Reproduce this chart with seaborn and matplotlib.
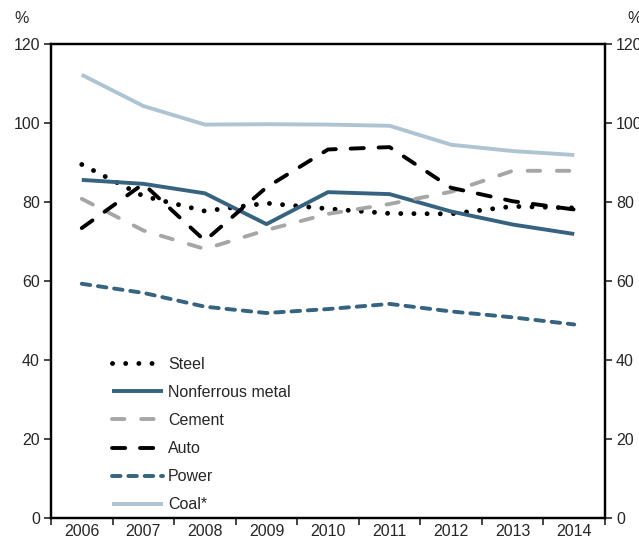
import matplotlib
matplotlib.use('Agg')
import matplotlib.pyplot as plt
import seaborn as sns
import pandas as pd

# capacity utilisation by sector, %
years = ['2006', '2007', '2008', '2009', '2010', '2011', '2012', '2013', '2014']
steel = [89.5, 81.5, 77.7, 79.7, 78.3, 77.1, 77.0, 78.9, 78.5]
nonferrous = [85.6, 84.6, 82.2, 74.4, 82.5, 82.0, 77.6, 74.3, 71.9]
cement = [80.8, 72.8, 68.1, 72.9, 77.0, 79.5, 82.6, 87.9, 87.9]
auto = [73.4, 84.6, 70.2, 83.7, 93.3, 93.9, 83.6, 80.2, 78.1]
power = [59.3, 57.0, 53.5, 51.9, 52.9, 54.2, 52.3, 50.8, 49.0]
coal = [112.2, 104.3, 99.6, 99.7, 99.6, 99.3, 94.5, 92.9, 91.9]

series_names = ['Steel', 'Nonferrous metal', 'Cement', 'Auto', 'Power', 'Coal*']
series_vals = [steel, nonferrous, cement, auto, power, coal]
colors = ['#000000', '#36637f', '#a6a6a6', '#000000', '#36637f', '#afc4d2']
dash_styles = [(0.01, 2.7), None, (3.2, 4.3), (3.4, 3.8), (2.2, 2.0), None]
widths = [3.5, 2.8, 2.8, 2.8, 2.8, 2.8]

df = pd.DataFrame({'year': years})
for n, v in zip(series_names, series_vals):
    df[n] = v
df['x'] = range(len(years))

sns.set_style('white')
plt.rcParams['font.family'] = ['Liberation Sans', 'DejaVu Sans']
plt.rcParams['font.size'] = 11.5

fig = plt.figure(figsize=(6.39, 5.40), dpi=100)
ax = fig.add_axes([0.0798, 0.0407, 0.867, 0.8778])

for n, c, d, w in zip(series_names, colors, dash_styles, widths):
    if d is None:
        sns.lineplot(data=df, x='x', y=n, color=c, lw=w, label=n, ax=ax,
                     solid_capstyle='butt')
    else:
        sns.lineplot(data=df, x='x', y=n, color=c, lw=w, label=n, ax=ax,
                     dashes=d, dash_capstyle='round')

ax.set_xlim(-0.5, len(years) - 0.5)
ax.set_ylim(0, 120)
ax.set_yticks(range(0, 121, 20))
ax.set_xticks(range(len(years)))
ax.set_xticklabels(years)
ax.set_xticks([i - 0.5 for i in range(len(years) + 1)], minor=True)
ax.tick_params(axis='x', which='major', length=0, pad=4, labelsize=11.5)
ax.tick_params(axis='x', which='minor', length=5, width=1.2, direction='out',
               bottom=True)
ax.tick_params(axis='y', length=5, width=1.2, direction='out', left=True,
               labelsize=11.5, pad=3)
ax.set_xlabel('')
ax.set_ylabel('')
for s in ax.spines.values():
    s.set_color('black')
    s.set_linewidth(1.6)

ax2 = ax.twinx()
ax2.set_ylim(0, 120)
ax2.set_yticks(range(0, 121, 20))
ax2.tick_params(axis='y', length=5, width=1.2, direction='out', right=True,
                labelsize=11.5, pad=3)
for s in ax2.spines.values():
    s.set_color('black')
    s.set_linewidth(1.6)
ax2.grid(False)

ax.legend(loc='upper left', bbox_to_anchor=(0.110, 0.340), frameon=False,
          borderaxespad=0, borderpad=0, handlelength=3.2, handletextpad=0.3,
          labelspacing=0.82, fontsize=11.5)

fig.text(0.023, 0.965, '%', fontsize=11.5, ha='left', va='center')
fig.text(0.982, 0.965, '%', fontsize=11.5, ha='left', va='center')

fig.savefig('out.png', dpi=100)
